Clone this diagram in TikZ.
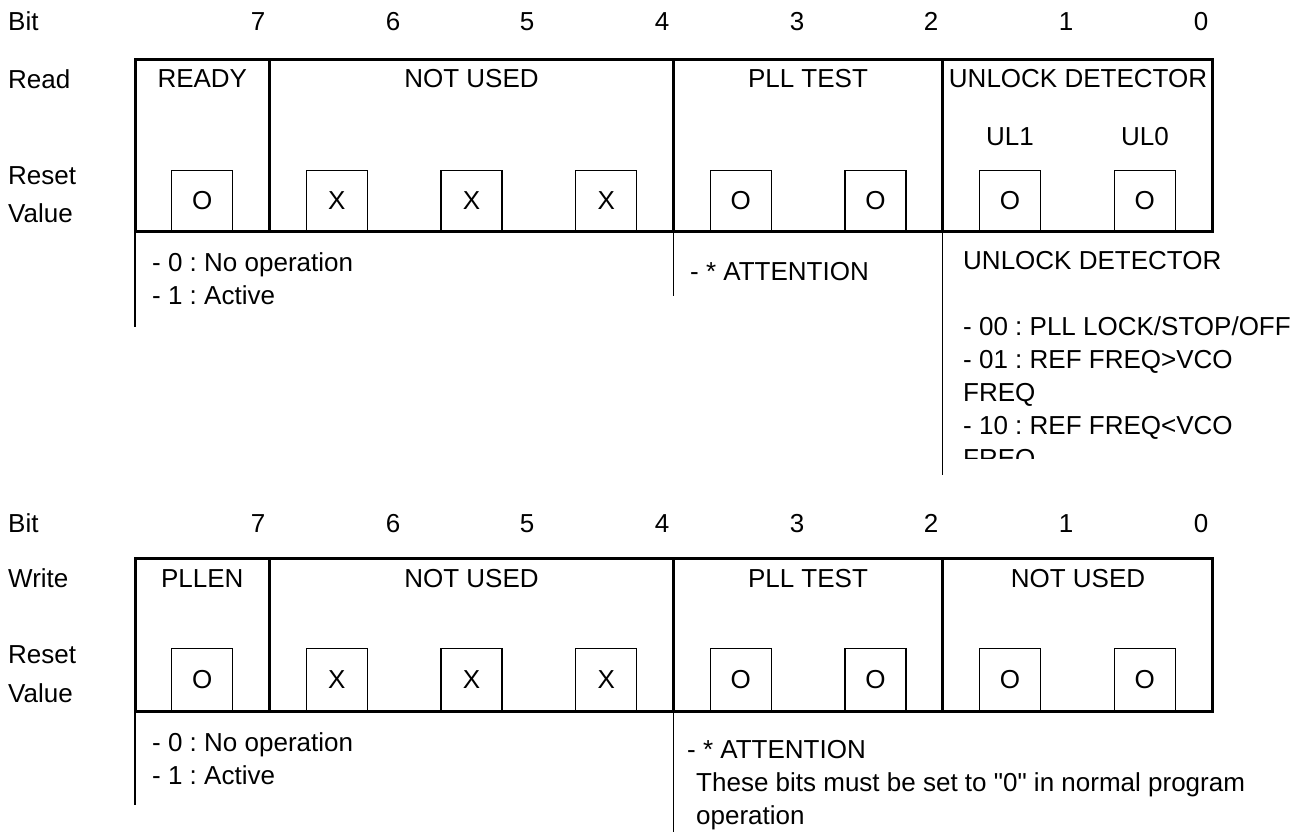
\documentclass[tikz,border=0pt]{standalone}
\usepackage{fontspec}
\setmainfont{Liberation Sans}[Ligatures=TeXOff]
\usetikzlibrary{positioning}
\frenchspacing

\begin{document}
\begin{tikzpicture}[
    x=1pt, y=-1pt,
    font=\fontsize{26pt}{33pt}\selectfont,
    frameLine/.style={
        draw=black,
        line width=3pt
    },
    fieldLine/.style={
        draw=black,
        line width=2.5pt
    },
    descRule/.style={
        draw=black,
        line width=1.6pt
    },
    bitBox/.style={
        rectangle,
        draw=black,
        line width=1.2pt,
        anchor=south,
        inner sep=0pt,
        minimum width=61pt,
        minimum height=60pt
    },
    rowLabel/.style={
        anchor=west,
        inner sep=0pt
    },
    bitNum/.style={
        inner sep=0pt,
        text height=19pt,
        text depth=0pt
    },
    fieldLabel/.style={
        inner sep=0pt
    },
    descText/.style={
        anchor=west,
        align=left,
        inner sep=0pt
    }
]
\useasboundingbox (0,0) rectangle (1315,832);

% ==================== READ REGISTER ====================
\node[rowLabel] (bitRd) at (8,21) {Bit};
\node[bitNum] (rdNum7) at (258,21) {7};
\node[bitNum] (rdNum6) at (393,21) {6};
\node[bitNum] (rdNum5) at (527,21) {5};
\node[bitNum] (rdNum4) at (662,21) {4};
\node[bitNum] (rdNum3) at (797,21) {3};
\node[bitNum] (rdNum2) at (931,21) {2};
\node[bitNum] (rdNum1) at (1066,21) {1};
\node[bitNum] (rdNum0) at (1201,21) {0};

\node[rowLabel] (readLbl) at (8,79) {Read};
\node[rowLabel] (resetRd) at (8,176) {Reset};
\node[rowLabel] (valueRd) at (8,213) {Value};

% Register frame and field borders
\draw[frameLine] (135,60) rectangle (1212,231);
\draw[frameLine] (269.6,60) -- (269.6,231);
\draw[fieldLine] (673.4,60) -- (673.4,231);
\draw[fieldLine] (942.6,60) -- (942.6,231);

% Field names
\node[fieldLabel] (readyFld) at (202.3,79) {READY};
\node[fieldLabel] (unusedRdFld) at (471.5,79) {NOT USED};
\node[fieldLabel] (pllTestRdFld) at (808,79) {PLL TEST};
\node[fieldLabel] (unlockFld) at (1078,79) {UNLOCK DETECTOR};
\node[fieldLabel] (ulOneLbl) at (1010,137) {UL1};
\node[fieldLabel] (ulZeroLbl) at (1145,137) {UL0};

% Reset values
\node[bitBox] (rdBox7) at (202.3,231) {O};
\node[bitBox] (rdBox6) at (336.9,231) {X};
\node[bitBox] (rdBox5) at (471.5,231) {X};
\node[bitBox] (rdBox4) at (606.2,231) {X};
\node[bitBox] (rdBox3) at (740.8,231) {O};
\node[bitBox] (rdBox2) at (875.4,231) {O};
\node[bitBox] (rdBox1) at (1010,231) {O};
\node[bitBox] (rdBox0) at (1144.6,231) {O};

% Descriptions
\draw[descRule] (135,231) -- (135,327);
\draw[descRule] (673.4,231) -- (673.4,296);
\draw[descRule] (942.6,231) -- (942.6,475);

\node[descText] (readyDesc) at (152,279) {- 0 : No operation\\- 1 : Active};
\node[descText] (attnRd) at (690,272) {- * ATTENTION};
\begin{scope}
    \clip (944,233) rectangle (1315,458);
    \node[descText] (unlockDesc) at (963,362) {UNLOCK DETECTOR\\[33pt]- 00 : PLL LOCK/STOP/OFF\\- 01 : REF FREQ>VCO\\FREQ\\- 10 : REF FREQ<VCO\\FREQ};
\end{scope}

% ==================== WRITE REGISTER ====================
\node[rowLabel] (bitWr) at (8,523) {Bit};
\node[bitNum] (wrNum7) at (258,523) {7};
\node[bitNum] (wrNum6) at (393,523) {6};
\node[bitNum] (wrNum5) at (527,523) {5};
\node[bitNum] (wrNum4) at (662,523) {4};
\node[bitNum] (wrNum3) at (797,523) {3};
\node[bitNum] (wrNum2) at (931,523) {2};
\node[bitNum] (wrNum1) at (1066,523) {1};
\node[bitNum] (wrNum0) at (1201,523) {0};

\node[rowLabel] (writeLbl) at (8,578) {Write};
\node[rowLabel] (resetWr) at (8,655) {Reset};
\node[rowLabel] (valueWr) at (8,693) {Value};

% Register frame and field borders
\draw[frameLine] (135,558) rectangle (1212,711);
\draw[frameLine] (269.6,558) -- (269.6,711);
\draw[fieldLine] (673.4,558) -- (673.4,711);
\draw[fieldLine] (942.6,558) -- (942.6,711);

% Field names
\node[fieldLabel] (pllenFld) at (202.3,579) {PLLEN};
\node[fieldLabel] (unusedWrFld) at (471.5,579) {NOT USED};
\node[fieldLabel] (pllTestWrFld) at (808,579) {PLL TEST};
\node[fieldLabel] (unusedLoFld) at (1078,579) {NOT USED};

% Reset values
\node[bitBox, minimum height=62pt] (wrBox7) at (202.3,711) {O};
\node[bitBox, minimum height=62pt] (wrBox6) at (336.9,711) {X};
\node[bitBox, minimum height=62pt] (wrBox5) at (471.5,711) {X};
\node[bitBox, minimum height=62pt] (wrBox4) at (606.2,711) {X};
\node[bitBox, minimum height=62pt] (wrBox3) at (740.8,711) {O};
\node[bitBox, minimum height=62pt] (wrBox2) at (875.4,711) {O};
\node[bitBox, minimum height=62pt] (wrBox1) at (1010,711) {O};
\node[bitBox, minimum height=62pt] (wrBox0) at (1144.6,711) {O};

% Descriptions
\draw[descRule] (135,711) -- (135,805);
\draw[descRule] (673.4,711) -- (673.4,832);

\node[descText] (pllenDesc) at (152,759) {- 0 : No operation\\- 1 : Active};
\node[descText] (attnWr) at (687,785) {- * ATTENTION\\\hspace*{9pt}These bits must be set to "0" in normal program\\\hspace*{9pt}operation};

\end{tikzpicture}
\end{document}
